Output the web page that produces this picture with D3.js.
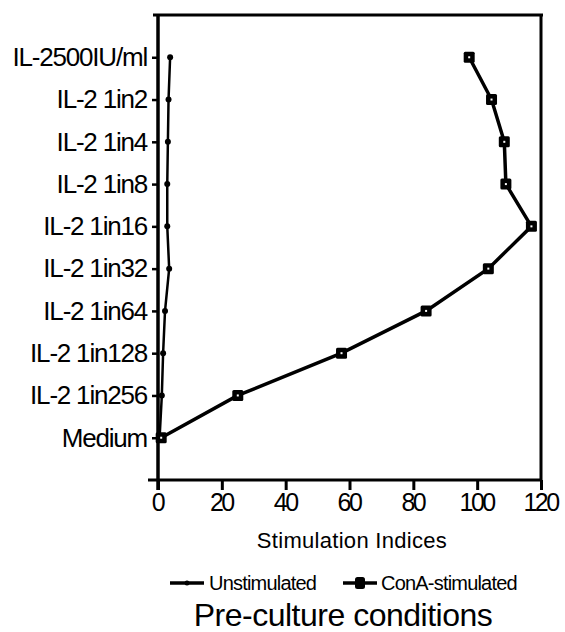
<!DOCTYPE html>
<html><head><meta charset="utf-8">
<script src="https://cdn.jsdelivr.net/npm/d3@7"></script>
<style>body{margin:0;background:#fff}svg{display:block}text{font-family:"Liberation Sans",Arial,sans-serif;fill:#000}</style>
</head><body>
<svg id="c" width="565" height="632"></svg>
<script>
const categories = ["IL-2500IU/ml","IL-2 1in2","IL-2 1in4","IL-2 1in8","IL-2 1in16","IL-2 1in32","IL-2 1in64","IL-2 1in128","IL-2 1in256","Medium"];
const unstimulated = [3.8,3.3,3.1,2.9,2.9,3.5,2.2,1.6,1.2,0.5];
const conAStimulated = [97.5,104.5,108.5,109,117,103.5,84,57.5,25,1];
const xTicks = [0,20,40,60,80,100,120];
const seriesNames = ["Unstimulated","ConA-stimulated"];
const xLabel = "Stimulation Indices";
const title = "Pre-culture conditions";

const svg = d3.select("#c");
const L = 158, R = 541, T = 15, B = 480;
const x = d3.scaleLinear().domain([0,120]).range([L,R]);
const y = d3.scalePoint().domain(categories).range([T,B]).padding(1);

// frame
svg.append("line").attr("x1",153).attr("x2",R+2).attr("y1",T).attr("y2",T).attr("stroke","#000").attr("stroke-width",3);
svg.append("line").attr("x1",R).attr("x2",R).attr("y1",T).attr("y2",B).attr("stroke","#000").attr("stroke-width",3);

// x axis
const gx = svg.append("g").attr("transform",`translate(0,${B})`)
  .call(d3.axisBottom(x).tickValues(xTicks).tickSize(10).tickPadding(3).tickSizeOuter(0));
gx.select(".domain").remove();
gx.selectAll(".tick line").attr("stroke","#000").attr("stroke-width",3);
gx.selectAll(".tick text").attr("font-family",null).attr("font-size",null)
  .style("font-size","25px").style("letter-spacing","-2.5px").attr("dx","-1");
svg.append("line").attr("x1",148).attr("x2",R+1).attr("y1",B).attr("y2",B).attr("stroke","#000").attr("stroke-width",3);

// y axis
const gy = svg.append("g").attr("transform",`translate(${L},0)`)
  .call(d3.axisLeft(y).tickSize(6).tickPadding(5).tickSizeOuter(0));
gy.select(".domain").remove();
gy.selectAll(".tick line").attr("stroke","#000").attr("stroke-width",2.5);
gy.selectAll(".tick text").attr("font-family",null).attr("font-size",null)
  .style("font-size","26px").style("letter-spacing","-1.2px");
svg.append("line").attr("x1",L).attr("x2",L).attr("y1",T).attr("y2",490).attr("stroke","#000").attr("stroke-width",3.5);

// series
const line = d3.line().x(d=>x(d[1])).y(d=>y(d[0]));
const unData = categories.map((c,i)=>[c,unstimulated[i]]);
const caData = categories.map((c,i)=>[c,conAStimulated[i]]);
svg.append("path").attr("d",line(unData)).attr("fill","none").attr("stroke","#000").attr("stroke-width",2.5);
svg.selectAll("circle.un").data(unData).enter().append("circle").attr("class","un")
  .attr("cx",d=>x(d[1])).attr("cy",d=>y(d[0])).attr("r",3).attr("fill","#000");
svg.append("path").attr("d",line(caData)).attr("fill","none").attr("stroke","#000").attr("stroke-width",3.5);
const m = svg.selectAll("g.ca").data(caData).enter().append("g").attr("class","ca")
  .attr("transform",d=>`translate(${x(d[1])},${y(d[0])})`);
m.append("rect").attr("x",-5.5).attr("y",-5.5).attr("width",11).attr("height",11).attr("rx",1.5).attr("fill","#000");
m.append("rect").attr("x",-1).attr("y",-1).attr("width",2).attr("height",2).attr("fill","#fff");

// x label
svg.append("text").attr("x",352).attr("y",548).attr("text-anchor","middle").style("font-size","22px").style("letter-spacing","0.3px").text(xLabel);

// legend
const ly = 583;
svg.append("line").attr("x1",170).attr("x2",204).attr("y1",ly).attr("y2",ly).attr("stroke","#000").attr("stroke-width",3.5);
svg.append("circle").attr("cx",187).attr("cy",ly).attr("r",2.5).attr("fill","#000");
svg.append("text").attr("x",209).attr("y",590).style("font-size","20px").style("letter-spacing","-0.8px").text(seriesNames[0]);
svg.append("line").attr("x1",343).attr("x2",377).attr("y1",ly).attr("y2",ly).attr("stroke","#000").attr("stroke-width",3.5);
svg.append("rect").attr("x",355).attr("y",ly-6).attr("width",10).attr("height",12).attr("rx",2.5).attr("fill","#000");
svg.append("text").attr("x",381).attr("y",590).style("font-size","20px").style("letter-spacing","-0.8px").text(seriesNames[1]);

// title
svg.append("text").attr("x",343).attr("y",626).attr("text-anchor","middle").style("font-size","32px").style("letter-spacing","-0.5px").text(title);
</script>
</body></html>
